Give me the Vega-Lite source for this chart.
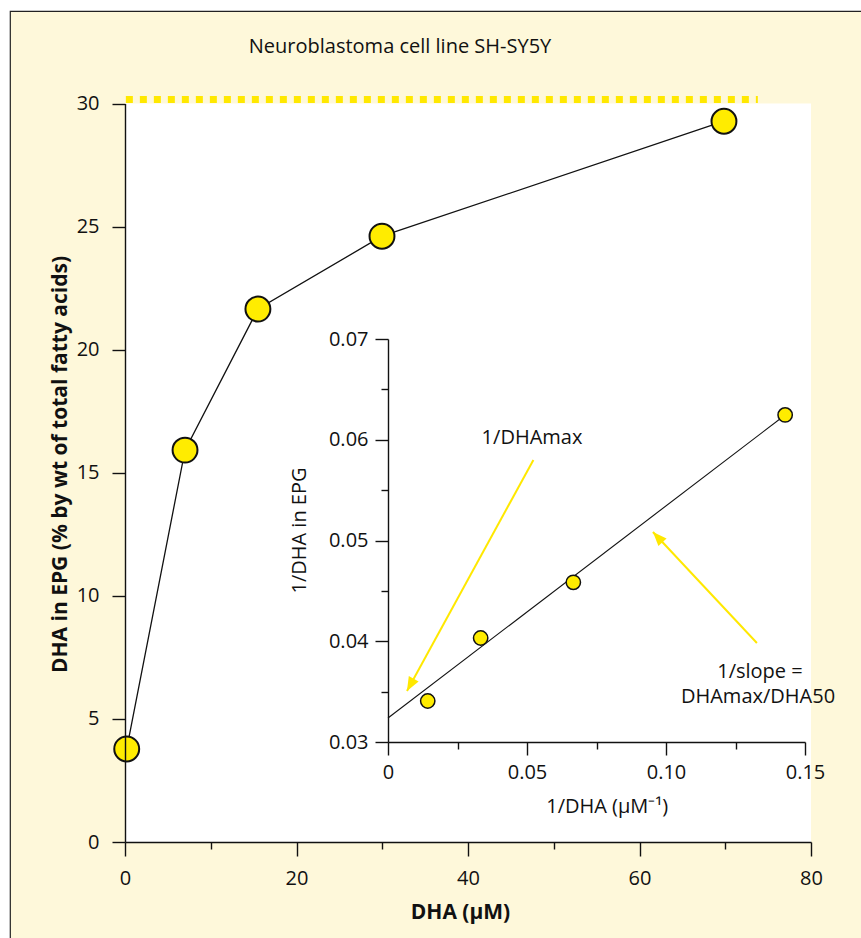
{
  "$schema": "https://vega.github.io/schema/vega-lite/v6.json",
  "autosize": "none",
  "width": 853,
  "height": 929,
  "padding": {"left": 10, "top": 11, "right": -2, "bottom": -2},
  "background": "white",
  "config": {
    "font": "Open Sans",
    "view": {"fill": "#FEF8DA", "stroke": "#222222", "strokeWidth": 1.2},
    "axis": {
      "labelFont": "Open Sans",
      "titleFont": "Open Sans",
      "labelFontSize": 20,
      "titleFontSize": 20,
      "labelColor": "#111111",
      "titleColor": "#111111",
      "domainColor": "#111111",
      "tickColor": "#111111",
      "domainWidth": 1.4,
      "tickWidth": 1.4,
      "grid": false,
      "labelFlush": false,
      "labelOverlap": false,
      "titleAlign": "center",
      "titleBaseline": "alphabetic"
    },
    "text": {"font": "Open Sans"}
  },
  "title": {
    "text": "Neuroblastoma cell line SH-SY5Y",
    "frame": "group",
    "anchor": "middle",
    "offset": -62,
    "dx": -36.5,
    "baseline": "alphabetic",
    "font": "Open Sans",
    "fontSize": 20,
    "fontWeight": "normal",
    "color": "#111111"
  },
  "datasets": {
    "plotArea": [{"x": 0, "x2": 80, "y": 0, "y2": 30}],
    "dottedLine": [{"x": 0.1, "x2": 73.8, "y": 30.16}],
    "epg": [
      {"x": 0.2, "y": 3.78},
      {"x": 7.0, "y": 15.92},
      {"x": 15.5, "y": 21.65},
      {"x": 29.97, "y": 24.61},
      {"x": 69.85, "y": 29.28}
    ],
    "reciprocal": [
      {"x": 0.01429, "y": 0.03407},
      {"x": 0.03333, "y": 0.04032},
      {"x": 0.06667, "y": 0.04585},
      {"x": 0.14286, "y": 0.06246}
    ],
    "fit": [
      {"x": 0, "y": 0.03238},
      {"x": 0.14286, "y": 0.06246}
    ],
    "arrows": [
      {"arrow": "max", "x": 0.00683, "y": 0.03506, "x2": 0.0523, "y2": 0.058},
      {"arrow": "slope", "x": 0.0953, "y": 0.05084, "x2": 0.1327, "y2": 0.03983}
    ],
    "notes": [
      {"x": 0.0518, "y": 0.06017, "note": "1/DHAmax"},
      {"x": 0.1338, "y": 0.03695, "note": "1/slope ="},
      {"x": 0.1331, "y": 0.03447, "note": "DHAmax/DHA50"}
    ]
  },
  "layer": [
    {
      "encoding": {
        "x": {
          "field": "x",
          "type": "quantitative",
          "scale": {"domain": [0, 80], "range": [115, 801], "nice": false, "zero": false},
          "axis": {
            "orient": "bottom",
            "offset": -98,
            "zindex": 1,
            "values": [0, 10, 20, 30, 40, 50, 60, 70, 80],
            "tickSize": {"condition": {"test": "datum.value % 20 === 0", "value": 14}, "value": 7},
            "labelExpr": "datum.value % 20 === 0 ? datum.label : ''",
            "labelPadding": 12,
            "title": "DHA (μM)",
            "titleFontWeight": "bold",
            "titleFontSize": 21,
            "titleX": 450,
            "titleY": 76
          }
        },
        "y": {
          "field": "y",
          "type": "quantitative",
          "scale": {"domain": [0, 30], "range": [831, 92.5], "nice": false, "zero": false},
          "axis": {
            "orient": "left",
            "offset": -115,
            "zindex": 1,
            "values": [0, 5, 10, 15, 20, 25, 30],
            "tickSize": 13,
            "labelPadding": 13,
            "title": "DHA in EPG (% by wt of total fatty acids)",
            "titleFontWeight": "bold",
            "titleFontSize": 21,
            "titleAngle": -90,
            "titleX": -59,
            "titleY": 453
          }
        }
      },
      "layer": [
        {
          "data": {"name": "plotArea"},
          "mark": {"type": "rect", "fill": "white"},
          "encoding": {"x2": {"field": "x2"}, "y2": {"field": "y2"}}
        },
        {
          "data": {"name": "dottedLine"},
          "mark": {"type": "rule", "color": "#FFE800", "strokeWidth": 7, "strokeDash": [7, 7], "strokeCap": "butt"},
          "encoding": {"x2": {"field": "x2"}}
        },
        {
          "data": {"name": "epg"},
          "mark": {"type": "line", "color": "#111111", "strokeWidth": 1.3}
        },
        {
          "data": {"name": "epg"},
          "mark": {"type": "point", "shape": "circle", "filled": true, "fill": "#FFEC00", "stroke": "#111111", "strokeWidth": 2, "size": 620, "opacity": 1}
        }
      ]
    },
    {
      "encoding": {
        "x": {
          "field": "x",
          "type": "quantitative",
          "scale": {"domain": [0, 0.15], "range": [378, 795], "nice": false, "zero": false},
          "axis": {
            "orient": "bottom",
            "offset": -198,
            "zindex": 1,
            "values": [0, 0.025, 0.05, 0.075, 0.1, 0.125, 0.15],
            "tickSize": {"condition": {"test": "abs(datum.value * 20 - round(datum.value * 20)) < 0.000001", "value": 13}, "value": 7},
            "labelExpr": "abs(datum.value * 20 - round(datum.value * 20)) < 0.000001 ? (datum.value === 0 ? '0' : format(datum.value, '.2f')) : ''",
            "labelPadding": 7,
            "title": "1/DHA (μM⁻¹)",
            "titleFontWeight": "normal",
            "titleX": 596.7,
            "titleY": 70.7
          }
        },
        "y": {
          "field": "y",
          "type": "quantitative",
          "scale": {"domain": [0.03, 0.07], "range": [731, 328], "nice": false, "zero": false},
          "axis": {
            "orient": "left",
            "offset": -378,
            "zindex": 1,
            "values": [0.03, 0.035, 0.04, 0.045, 0.05, 0.055, 0.06, 0.065, 0.07],
            "tickSize": {"condition": {"test": "abs(datum.value * 100 - round(datum.value * 100)) < 0.000001", "value": 13}, "value": 7},
            "labelExpr": "abs(datum.value * 100 - round(datum.value * 100)) < 0.000001 ? format(datum.value, '.2f') : ''",
            "labelPadding": 7,
            "title": "1/DHA in EPG",
            "titleFontWeight": "normal",
            "titleAngle": -90,
            "titleX": -83,
            "titleY": 519
          }
        }
      },
      "layer": [
        {
          "data": {"name": "fit"},
          "mark": {"type": "line", "color": "#111111", "strokeWidth": 1.1}
        },
        {
          "data": {"name": "arrows"},
          "mark": {"type": "rule", "color": "#FFE800", "strokeWidth": 2},
          "encoding": {"x2": {"field": "x2"}, "y2": {"field": "y2"}}
        },
        {
          "data": {"name": "arrows"},
          "transform": [{"filter": "datum.arrow === 'max'"}],
          "mark": {"type": "point", "shape": "M0,0L-0.8,2L0.8,2Z", "filled": true, "fill": "#FFE800", "strokeWidth": 0, "size": 196, "angle": 208.7, "opacity": 1}
        },
        {
          "data": {"name": "arrows"},
          "transform": [{"filter": "datum.arrow === 'slope'"}],
          "mark": {"type": "point", "shape": "M0,0L-0.8,2L0.8,2Z", "filled": true, "fill": "#FFE800", "strokeWidth": 0, "size": 196, "angle": 316.9, "opacity": 1}
        },
        {
          "data": {"name": "reciprocal"},
          "mark": {"type": "point", "shape": "circle", "filled": true, "fill": "#FFEC00", "stroke": "#111111", "strokeWidth": 1.5, "size": 205, "opacity": 1}
        },
        {
          "data": {"name": "notes"},
          "mark": {"type": "text", "fontSize": 20, "align": "center", "baseline": "middle", "color": "#111111", "font": "Open Sans"},
          "encoding": {"text": {"field": "note"}}
        }
      ]
    }
  ],
  "resolve": {
    "scale": {"x": "independent", "y": "independent"},
    "axis": {"x": "independent", "y": "independent"}
  }
}
